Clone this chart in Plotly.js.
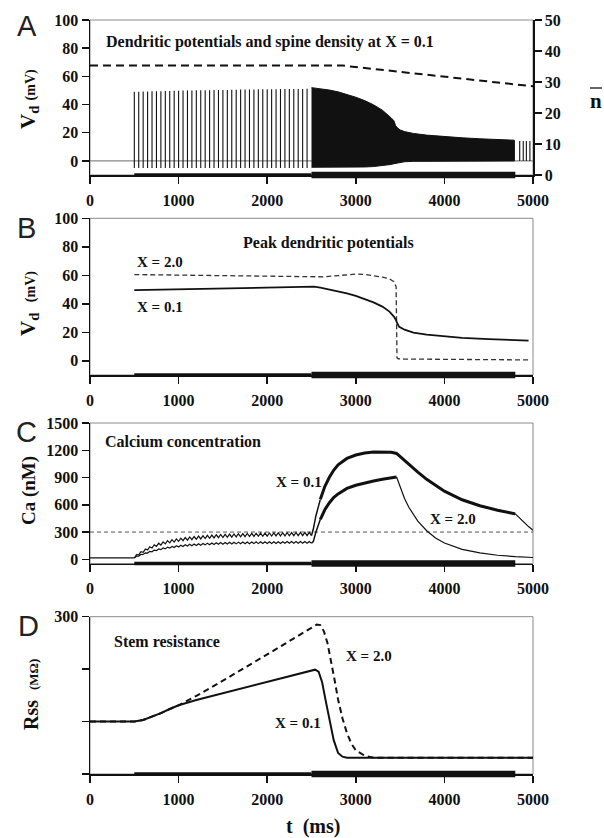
<!DOCTYPE html>
<html>
<head>
<meta charset="utf-8">
<script src="https://cdn.plot.ly/plotly-3.0.1.min.js"></script>
<style>html,body{margin:0;padding:0;background:#fff;}#chart{width:604px;height:838px;}</style>
</head>
<body>
<div id="chart"></div>
<script>
// ---------- shared ----------
const xTicks = [0, 1000, 2000, 3000, 4000, 5000];
const stimMedT = [500, 2500];
const stimThickT = [2500, 4800];
const stimLevel = [0, 0];

// ---------- Panel A: dendritic potentials ----------
const spikeTimes = [500,550,600,650,700,750,800,850,900,950,1000,1050,1100,1150,1200,1250,1300,1350,1400,1450,
  1500,1550,1600,1650,1700,1750,1800,1850,1900,1950,2000,2050,2100,2150,2200,2250,2300,2350,2400,2450];
const spikePeaks = [49.0,49.1,49.2,49.3,49.4,49.5,49.5,49.6,49.7,49.8,49.8,49.9,50.0,50.0,50.1,50.1,50.2,50.2,50.3,50.3,
  50.4,50.4,50.5,50.5,50.6,50.6,50.7,50.7,50.8,50.8,50.9,50.9,50.9,51.0,51.0,51.0,51.1,51.1,51.1,51.2];
const spikeBase = -5;
const burstT   = [2500,2600,2700,2800,2900,3000,3100,3200,3300,3350,3400,3430,3450,3470,3500,3550,3650,3800,3900,4000,4200,4400,4600,4790];
const burstTop = [52.0,51.2,50.3,49.0,47.3,45.2,42.8,39.8,36.0,33.5,30.5,28.5,25.0,23.5,22.0,20.8,19.5,18.3,17.7,17.2,16.4,15.7,15.1,14.7];
const burstBot = [-4.5,-4.5,-4.6,-4.5,-4.5,-4.4,-4.3,-4.0,-3.5,-3.0,-2.5,-2.0,-1.6,-1.3,-1.0,-0.6,-0.3,0,0,0,0,0,0,0];
const lateTimes = [4850, 4890, 4925, 4965];
const latePeaks = [14.2, 14.2, 14.1, 14.1];
const nbarT = [0, 2850, 5000];
const nbarV = [35.3, 35.3, 28.6];

// ---------- Panel B: peak dendritic potentials ----------
const bT01 = [500,1000,1500,2000,2500,2530,2600,2700,2800,2900,3000,3100,3200,3300,3380,3430,3450,3470,3490,3550,3650,3800,4000,4200,4500,4800,4950];
const bV01 = [49.6,50.2,50.7,51.1,51.6,52.0,51.3,50.0,48.8,47.3,45.5,43.5,41.0,38.0,34.5,31.0,29.0,26.0,23.8,21.8,19.8,18.3,17.0,16.1,15.2,14.6,14.2];
const bT20 = [500,1000,1500,2000,2500,2650,2800,2900,3000,3100,3200,3300,3380,3430,3455,3465,3480,3550,4000,4500,4950];
const bV20 = [60.5,60.1,59.7,59.3,58.8,58.9,59.8,60.5,60.8,60.6,59.8,58.7,57.5,55.5,52.0,2.0,1.4,1.2,1.0,0.8,0.6];

// ---------- Panel C: calcium ----------
const caBaseT = [0, 500];
const caBaseV = [15, 15];
const caU_lo = [15,48,78,103,124,142,157,170,181,190,198,205,211,216,221,225,229,232,235,238,
  240,242,244,246,248,249,251,252,253,254,255,256,257,258,258,259,260,260,261,261];
const caU_hi = [52,84,113,138,159,177,192,205,216,225,233,240,246,251,256,260,264,267,270,273,
  275,277,279,281,283,284,286,287,288,289,290,291,292,293,293,294,295,295,296,296];
const caL_lo = [15,35,53,69,83,95,106,115,123,130,136,141,146,150,153,156,159,161,163,165,
  166,168,169,170,171,172,172,173,173,174,174,175,175,175,176,176,176,176,177,177];
const caL_hi = [34,54,72,88,102,114,125,134,142,149,155,160,165,169,172,175,178,180,182,184,
  185,187,188,189,190,191,191,192,192,193,193,194,194,194,195,195,195,195,196,196];
const ca01T_rise = [2500,2520,2550,2600];
const ca01V_rise = [262,330,480,660];
const ca01T_burst = [2600,2650,2700,2750,2800,2900,3000,3100,3200,3300,3400,3460,3500,3600,3700,3800,3900,4000,4200,4400,4600,4800];
const ca01V_burst = [660,800,900,980,1040,1110,1148,1170,1180,1183,1178,1165,1130,1045,960,880,810,750,655,590,540,500];
const ca01T_tail = [4800,4850,4900,4950,5000];
const ca01V_tail = [500,450,400,360,320];
const ca20T_rise = [2500,2520,2550,2600];
const ca20V_rise = [177,195,300,440];
const ca20T_burst = [2600,2650,2700,2750,2800,2900,3000,3100,3200,3300,3400,3460];
const ca20V_burst = [440,545,620,680,720,780,815,842,862,880,895,905];
const ca20T_tail = [3460,3500,3550,3600,3700,3800,3900,4000,4200,4400,4600,4800,5000];
const ca20V_tail = [905,790,670,570,420,315,235,180,110,70,45,30,20];
const caRefT = [0, 5000];
const caRefV = [300, 300];

// ---------- Panel D: stem resistance ----------
const dT01 = [0,500,600,700,800,900,1000,1200,1500,2000,2400,2500,2540,2580,2620,2660,2700,2750,2800,2850,2900,5000];
const dV01 = [100,100,103,109,116,124,131,141,154,175,192,197,199,195,175,140,105,65,40,33,31,31];
const dT20 = [0,500,600,700,800,900,1000,1200,1500,2000,2400,2500,2560,2600,2640,2680,2720,2760,2800,2850,2900,2950,3000,3100,3200,5000];
const dV20 = [100,100,103,109,116,124,131,149,178,228,268,278,285,284,272,250,218,180,142,106,78,58,45,35,31,31];

// ---------- tick labels ----------
const yTicksA = [0,20,40,60,80,100];
const yTicksN = [0,10,20,30,40,50];
const yTicksC = [0,300,600,900,1200,1500];
const yTicksD = [0,100,200,300];
const yTextD = ['','','','300'];

// ---------- build traces ----------
const K = '#111';
function vlines(ts, base, peaks){
  const x=[], y=[];
  ts.forEach((t,i)=>{ x.push(t,t,null); y.push(base, peaks[i], null); });
  return {x, y};
}
function saw(ts, lo, hi){
  const x=[], y=[];
  ts.forEach((t,i)=>{ x.push(t, t+25); y.push(lo[i], hi[i]); });
  x.push(2500); y.push(lo[lo.length-1]);
  return {x, y};
}
const traces = [];
function line(x, y, xa, ya, w, dash, color){
  traces.push({type:'scatter', mode:'lines', x, y, xaxis:xa, yaxis:ya, hoverinfo:'skip',
    line:{color: color||K, width:w, dash: dash||'solid'}, showlegend:false, cliponaxis:false});
}
function stim(xa, ya){
  line(stimMedT, stimLevel, xa, ya, 3.4);
  line(stimThickT, stimLevel, xa, ya, 6.5);
}

// A
line([0,5000],[0,0],'x','y',1.2,'solid','#888');
const sp = vlines(spikeTimes, spikeBase, spikePeaks);
line(sp.x, sp.y, 'x','y',1.1);
traces.push({type:'scatter', mode:'lines', x: burstT.concat(burstT.slice().reverse()),
  y: burstTop.concat(burstBot.slice().reverse()), fill:'toself', fillcolor:K,
  line:{color:K, width:1}, xaxis:'x', yaxis:'y', hoverinfo:'skip', showlegend:false});
const lp = vlines(lateTimes, 0, latePeaks);
line(lp.x, lp.y, 'x','y',1.1);
line(nbarT, nbarV, 'x','y2',2,'8px,5px');
stim('x','y6');

// B
line(bT20, bV20, 'x2','y3',1.3,'5px,3px','#333');
line(bT01, bV01, 'x2','y3',1.8);
stim('x2','y7');

// C
line(caRefT, caRefV, 'x3','y4',1,'4px,3px','#555');
line(caBaseT, caBaseV, 'x3','y4',1.2);
const su = saw(spikeTimes, caU_lo, caU_hi);
line(su.x, su.y, 'x3','y4',1.2);
const sl = saw(spikeTimes, caL_lo, caL_hi);
line(sl.x, sl.y, 'x3','y4',1.2);
line(ca01T_rise, ca01V_rise, 'x3','y4',1.5);
line(ca01T_burst, ca01V_burst, 'x3','y4',3);
line(ca01T_tail, ca01V_tail, 'x3','y4',1.3);
line(ca20T_rise, ca20V_rise, 'x3','y4',1.5);
line(ca20T_burst, ca20V_burst, 'x3','y4',3);
line(ca20T_tail, ca20V_tail, 'x3','y4',1.2);
stim('x3','y8');

// D
line(dT20, dV20, 'x4','y5',2,'6px,4px');
line(dT01, dV01, 'x4','y5',2);
stim('x4','y9');

// ---------- layout ----------
const W=604, H=838;
const px = v => v/W;
const py = v => 1 - v/H;
const tickFont = {family:'Liberation Serif', size:16, color:K, weight:'bold'};
const xDom = [px(90), px(533)];
function xax(anchor){
  return {domain:xDom, anchor, range:[0,5000], tickvals:xTicks, showgrid:false, zeroline:false,
    showline:true, linecolor:K, linewidth:1.5, ticks:'outside', ticklen:7, tickwidth:1.5, tickcolor:K,
    tickfont:tickFont, ticklabelstandoff:3, fixedrange:true};
}
function yax(anchor, dom, range, tv, tt){
  const a = {domain:dom, anchor, range, tickvals:tv, showgrid:false, zeroline:false,
    showline:true, linecolor:K, linewidth:1.5, ticks:'outside', ticklen:7, tickwidth:1.5, tickcolor:K,
    tickfont:tickFont, fixedrange:true};
  if (tt) a.ticktext = tt;
  return a;
}
function band(anchor, yPix){
  return {domain:[py(yPix+6), py(yPix-6)], anchor, range:[-1,1], visible:false, fixedrange:true};
}
const domA = [py(175), py(20)];
const domB = [py(375), py(218.3)];
const domC = [py(563.5), py(423)];
const domD = [py(774), py(616.7)];

const serifB = (size) => ({family:'Liberation Serif', size, color:K, weight:'bold'});
function ann(text, x, y, size, xanchor, extra){
  return Object.assign({text, x:px(x), y:py(y), xref:'paper', yref:'paper', showarrow:false,
    xanchor: xanchor||'left', yanchor:'middle', font:serifB(size)}, extra||{});
}
const letterFont = {family:'Liberation Sans', size:29, color:'#222'};
const annotations = [
  ann('A', 27, 26, 29, 'center', {font:letterFont}),
  ann('B', 26, 228, 29, 'center', {font:letterFont}),
  ann('C', 26, 432, 29, 'center', {font:letterFont}),
  ann('D', 28, 626, 29, 'center', {font:letterFont}),
  ann('V<sub>d</sub> <span style="font-size:14px">(mV)</span>', 29, 99, 21, 'center', {textangle:-90}),
  ann('V<sub>d</sub>  <span style="font-size:14px">(mV)</span>', 29, 304, 21, 'center', {textangle:-90}),
  ann('Ca (nM)', 29, 491, 19, 'center', {textangle:-90}),
  ann('Rss  <span style="font-size:13px">(MΩ)</span>', 31, 695, 20, 'center', {textangle:-90}),
  ann('n', 596, 101, 21, 'center'),
  ann('t  (ms)', 313, 826, 20, 'center'),
  ann('Dendritic potentials and spine density at X = 0.1', 104, 42, 16, 'left'),
  ann('Peak dendritic potentials', 328, 243, 16, 'center'),
  ann('X = 2.0', 135, 262, 15, 'left'),
  ann('X = 0.1', 135, 307, 15, 'left'),
  ann('Calcium concentration', 103, 442, 16, 'left'),
  ann('X = 0.1', 274, 482, 15, 'left'),
  ann('X = 2.0', 428, 519, 15, 'left'),
  ann('Stem resistance', 112, 641, 16, 'left'),
  ann('X = 2.0', 344, 656, 15, 'left'),
  ann('X = 0.1', 273, 723, 15, 'left')
];
function frame(xa, ya){
  return {type:'rect', xref:xa+' domain', yref:ya+' domain', x0:0, x1:1, y0:0, y1:1,
    line:{color:'#8a8a8a', width:1}, layer:'below'};
}
const shapes = [
  frame('x','y'), frame('x2','y3'), frame('x3','y4'), frame('x4','y5'),
  {type:'line', xref:'paper', yref:'paper', x0:px(590), x1:px(602), y0:py(88), y1:py(88), line:{color:K, width:1.3}}
];

const layout = {
  width:W, height:H, margin:{l:0,r:0,t:0,b:0}, paper_bgcolor:'#fff', plot_bgcolor:'rgba(0,0,0,0)',
  showlegend:false,
  xaxis: xax('y'),
  yaxis: yax('x', domA, [-10,100], yTicksA),
  yaxis2: Object.assign(yax('x', domA, [0,50], yTicksN), {overlaying:'y', side:'right'}),
  xaxis2: xax('y3'),
  yaxis3: yax('x2', domB, [-10,100], yTicksA),
  xaxis3: xax('y4'),
  yaxis4: yax('x3', domC, [-46,1500], yTicksC),
  xaxis4: xax('y5'),
  yaxis5: yax('x4', domD, [0,300], yTicksD, yTextD),
  yaxis6: band('x', 175),
  yaxis7: band('x2', 375),
  yaxis8: band('x3', 563.5),
  yaxis9: band('x4', 774),
  annotations, shapes
};
Plotly.newPlot('chart', traces, layout, {staticPlot:true, displayModeBar:false});
</script>
</body>
</html>
